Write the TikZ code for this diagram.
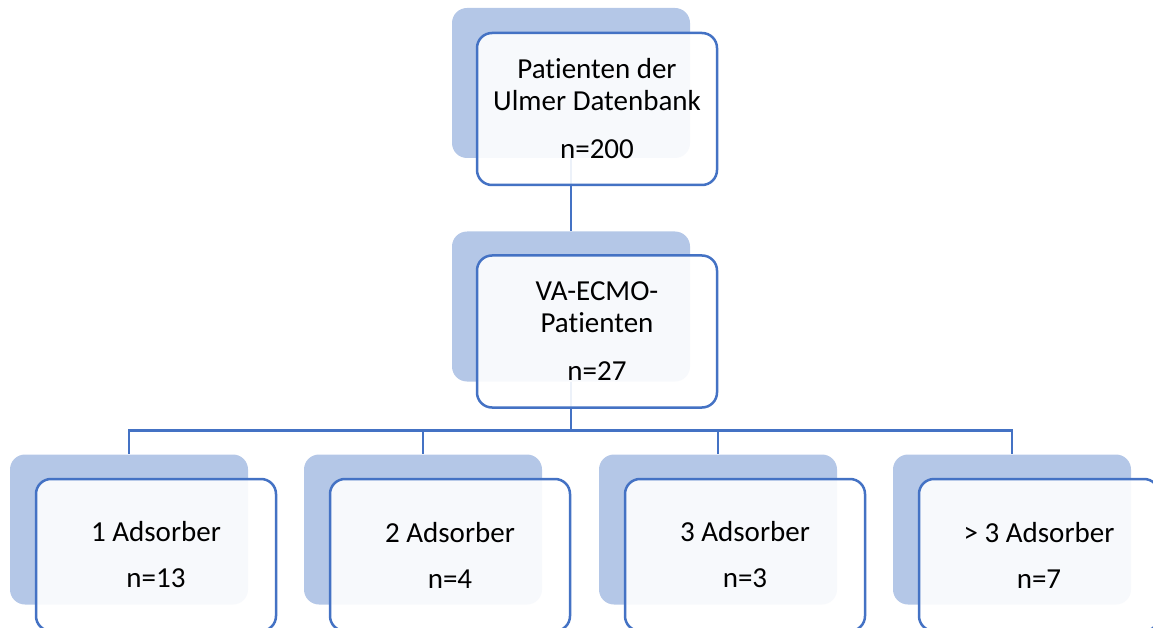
\documentclass[tikz,border=0pt]{standalone}
\usepackage{fontspec}
\setmainfont[RawFeature={-liga;-clig;-dlig}]{Carlito}
\definecolor{backblue}{HTML}{B4C7E7}
\definecolor{lineblue}{HTML}{4472C4}
\begin{document}
\begin{tikzpicture}[x=1pt,y=-1pt,
  backbox/.style={fill=backblue, rounded corners=15pt, minimum width=238pt, minimum height=150pt, inner sep=0pt, draw=none},
  frontbox/.style={draw=lineblue, line width=2.5pt, fill=white, fill opacity=0.9, text opacity=1, draw opacity=1, rounded corners=15pt, minimum width=240pt, minimum height=152pt, inner sep=0pt, align=center, font=\fontsize{29}{32}\selectfont},
  conn/.style={draw=lineblue, line width=2.5pt}]
\useasboundingbox (0,0) rectangle (1153,628);
% back boxes
\node[backbox] (topback) at (571,83) {};
\node[backbox] (midback) at (571,306.5) {};
\node[backbox] (b1back) at (129,529.5) {};
\node[backbox] (b2back) at (423,529.5) {};
\node[backbox] (b3back) at (718,529.5) {};
\node[backbox] (b4back) at (1012,529.5) {};
% connectors
\draw[conn] (topback.south) -- (midback.north);
\draw[conn] (midback.south) -- ++(0,49) coordinate (bus);
\draw[conn] (bus) -| (b1back.north);
\draw[conn] (bus) -| (b2back.north);
\draw[conn] (bus) -| (b3back.north);
\draw[conn] (bus) -| (b4back.north);
% front boxes
\node[frontbox] (top) at (597,109) {Patienten der\\Ulmer Datenbank\\[16pt]n=200};
\node[frontbox] (mid) at (597,331.5) {VA-ECMO-\\Patienten\\[16pt]n=27};
\node[frontbox] (b1) at (156,555) {1 Adsorber\\[14pt]n=13};
\node[frontbox] (b2) at (450,555) {2 Adsorber\\[14pt]n=4};
\node[frontbox] (b3) at (745,555) {3 Adsorber\\[14pt]n=3};
\node[frontbox] (b4) at (1039,555) {> 3 Adsorber\\[14pt]n=7};
\end{tikzpicture}
\end{document}
